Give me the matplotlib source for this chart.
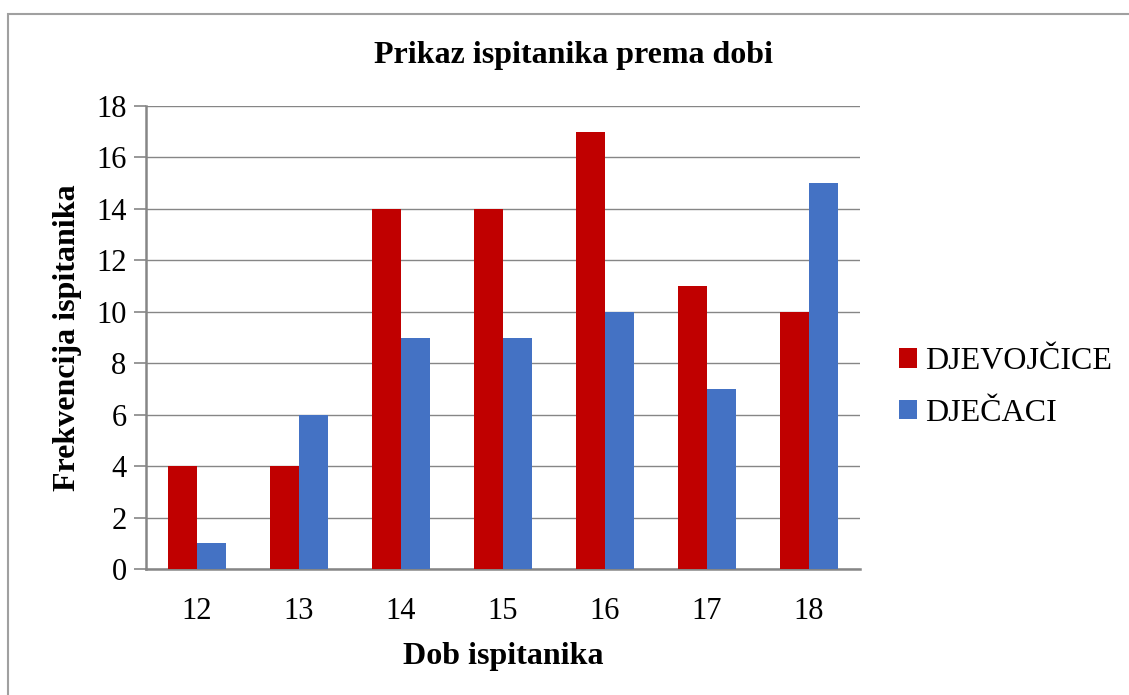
import numpy as np
import matplotlib
matplotlib.use('Agg')
import matplotlib.pyplot as plt
from matplotlib.patches import Rectangle

## age distribution of respondents, girls vs boys

ages = ['12', '13', '14', '15', '16', '17', '18']
djevojcice = [4, 4, 14, 14, 17, 11, 10]
djecaci = [1, 6, 9, 9, 10, 7, 15]

plt.rcParams['font.family'] = ['Liberation Serif', 'DejaVu Serif']

fig = plt.figure(figsize=(11.29, 6.95), dpi=100)
ax = fig.add_axes([146/1129, 1 - 569/695, (860-146)/1129, (569-106)/695])

# outer chart frame (only left and top edges fall inside the image)
fig.patches.append(Rectangle((8/1129, -0.2), 1.2, 1.2 - 14/695, transform=fig.transFigure,
                             fill=False, edgecolor='#a0a0a0', lw=1.5))

x = np.arange(len(ages))
w = 0.285
ax.bar(x - w/2, djevojcice, w, color='#c00000', label='DJEVOJČICE', zorder=3)
ax.bar(x + w/2, djecaci, w, color='#4472c4', label='DJEČACI', zorder=3)

ax.set_xlim(-0.5, len(ages) - 0.5)
ax.set_ylim(0, 18)
ax.set_yticks(range(0, 19, 2))
ax.set_xticks(x)
ax.set_xticklabels(ages)
ax.tick_params(axis='y', labelsize=22, length=9, width=1.2, color='#868686', pad=5)
ax.tick_params(axis='x', labelsize=22, length=0, pad=20)
ax.grid(axis='y', color='#868686', lw=1, zorder=0)

for s in ('top', 'right'):
    ax.spines[s].set_visible(False)
for s in ('left', 'bottom'):
    ax.spines[s].set_color('#868686')
    ax.spines[s].set_linewidth(1.8)

fig.text(573/1129, 1 - 55/695, 'Prikaz ispitanika prema dobi', fontsize=23,
         fontweight='bold', ha='center', va='center')
ax.set_xlabel('Dob ispitanika', fontsize=23, fontweight='bold', labelpad=12)
ax.set_ylabel('Frekvencija ispitanika', fontsize=23, fontweight='bold', labelpad=10)

ax.legend(loc='center left', bbox_to_anchor=(1.015, 0.392), frameon=False, fontsize=23,
          handlelength=0.55, handleheight=0.55, handletextpad=0.25, labelspacing=0.7)

fig.savefig('out.png', dpi=100)
